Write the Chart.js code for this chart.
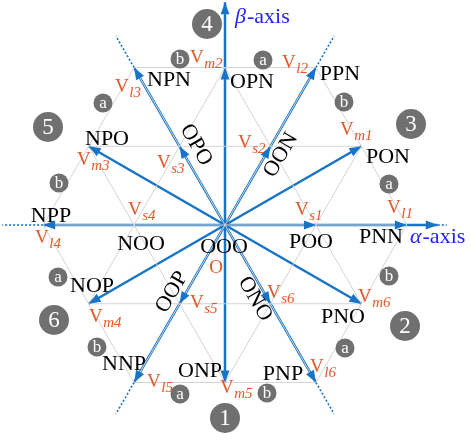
<!DOCTYPE html>
<html>
<head>
<meta charset="utf-8">
<script src="https://cdn.jsdelivr.net/npm/chart.js@4"></script>
<style>
  html, body { margin: 0; padding: 0; background: #fff; }
  canvas { display: block; }
</style>
</head>
<body>
<canvas id="svd" width="471" height="441"></canvas>
<script>
// Three-level inverter space vector diagram in the alpha-beta plane

const largeAngles = [0, 60, 120, 180, 240, 300];
const mediumAngles = [30, 90, 150, 210, 270, 330];
const largeNames = ['PNN', 'PPN', 'NPN', 'NPP', 'NNP', 'PNP'];
const mediumNames = ['PON', 'OPN', 'NPO', 'NOP', 'ONP', 'PNO'];
const smallNames = ['POO', 'OON', 'OPO', 'NOO', 'OOP', 'ONO'];
const zeroName = 'OOO';
const largeSubs = ['l1', 'l2', 'l3', 'l4', 'l5', 'l6'];
const mediumSubs = ['m1', 'm2', 'm3', 'm4', 'm5', 'm6'];
const smallSubs = ['s1', 's2', 's3', 's4', 's5', 's6'];
const sectorNumbers = ['1', '2', '3', '4', '5', '6'];
const regionLetters = ['b', 'a', 'a', 'b', 'b', 'a', 'a', 'b', 'a', 'b', 'b', 'a'];

// vector lengths, in units of the small vector
const smallLen = 1;
const mediumLen = 1.732;
const largeLen = 2;
const gridRows = [-2, -1, 0, 1, 2];
const gridFamilies = [0, 60, 120];
const dottedEnds = [2.4, 2.4, 2.4, 2.45, 2.4, 2.4];   // dotted continuation of each large vector
const alphaAxisEnd = 2.34;
const betaAxisEnd = 2.45;

// ---- label placement (pixel offsets from the origin) ----
const nameOffsets = {
  PNN: [156, 18], PPN: [115, -145], NPN: [-56, -139], NPP: [-174, -3], NNP: [-101, 145], PNP: [58, 155],
  PON: [163, -62], OPN: [27, -137], NPO: [-118, -80], NOP: [-133, 67], ONP: [-25, 152], PNO: [118, 98],
  POO: [86, 23], NOO: [-84, 25], OOO: [-1, 28]
};
const rotatedNames = { OON: [56, -70, -60], OPO: [-29, -80, 60], OOP: [-53, 67, -60], ONO: [30, 74, 60] };
const vLabelOffsets = {
  l1: [162, -12], l2: [57, -157], l3: [-110, -133], l4: [-190, 18], l5: [-78, 162], l6: [85, 147],
  m1: [115, -90], m2: [-35, -162], m3: [-148, -60], m4: [-136, 97], m5: [-5, 168], m6: [133, 77],
  s1: [70, -10], s2: [13, -77], s3: [-68, -57], s4: [-97, -10], s5: [-35, 83], s6: [42, 73]
};
const sectorOffsets = [[0, 193], [180, 101], [186, -101], [-18, -201], [-177, -98], [-171, 95]];
const letterOffsets = [
  [-45, -166], [38, -165], [-122, -122], [-166, -42], [119, -123], [164, -41],
  [-167, 52], [-128, 122], [-45, 169], [42, 168], [164, 51], [120, 123]
];

const BLUE = '#1874c6';
const ORANGE = '#e2592a';
const GRID = '#d4d4d4';
const BADGE = '#707070';
const AXIS_TEXT = '#2222ff';
const SERIF = '"Liberation Serif", "Times New Roman", serif';

const D2R = Math.PI / 180;
const polar = (ang, len) => ({ x: len * Math.cos(ang * D2R), y: len * Math.sin(ang * D2R) });
const rotate = (p, ang) => ({
  x: p.x * Math.cos(ang * D2R) - p.y * Math.sin(ang * D2R),
  y: p.x * Math.sin(ang * D2R) + p.y * Math.cos(ang * D2R)
});

function line(data, color, width, dash) {
  return {
    data: data, showLine: true, borderColor: color, borderWidth: width,
    borderDash: dash || [], pointRadius: 0, fill: false, tension: 0
  };
}

const datasets = [];

// triangular grid inside the hexagon
const rowStep = mediumLen / 2;
gridFamilies.forEach(fam => {
  gridRows.forEach(k => {
    const half = largeLen - Math.abs(k) / 2;
    const a = rotate({ x: -half, y: k * rowStep }, fam);
    const b = rotate({ x: half, y: k * rowStep }, fam);
    datasets.push(line([a, b], GRID, 1));
  });
});

// large and medium vectors
largeAngles.forEach(ang => datasets.push(line([{ x: 0, y: 0 }, polar(ang, largeLen)], BLUE, 2.5)));
mediumAngles.forEach(ang => datasets.push(line([{ x: 0, y: 0 }, polar(ang, mediumLen)], BLUE, 2.5)));

// alpha and beta axes
datasets.push(line([polar(0, largeLen), polar(0, alphaAxisEnd)], BLUE, 2.5));
datasets.push(line([polar(90, mediumLen), polar(90, betaAxisEnd)], BLUE, 2.5));
datasets.push(line([polar(0, alphaAxisEnd), polar(0, 2.44)], BLUE, 1.6, [2, 2]));

// dotted continuation of the large vectors
largeAngles.forEach((ang, i) => {
  if (ang === 0) return;
  datasets.push(line([polar(ang, largeLen), polar(ang, dottedEnds[i])], BLUE, 1.6, [2, 2]));
});

// arrowheads: [angle, length]
const heads = [];
largeAngles.forEach(ang => heads.push([ang, largeLen]));
mediumAngles.forEach(ang => heads.push([ang, mediumLen]));
largeAngles.forEach(ang => { if (ang !== 180) heads.push([ang, smallLen]); });
heads.push([0, alphaAxisEnd], [90, betaAxisEnd]);

function drawHead(ctx, ox, oy, tx, ty) {
  const ang = Math.atan2(ty - oy, tx - ox);
  const len = 12, hw = 4.5;
  ctx.save();
  ctx.translate(tx, ty);
  ctx.rotate(ang);
  ctx.beginPath();
  ctx.moveTo(0, 0);
  ctx.lineTo(-len, -hw);
  ctx.lineTo(-len, hw);
  ctx.closePath();
  ctx.fillStyle = BLUE;
  ctx.fill();
  ctx.restore();
}

function drawVLabel(ctx, x, y, sub) {
  ctx.fillStyle = ORANGE;
  ctx.textAlign = 'left';
  ctx.textBaseline = 'alphabetic';
  ctx.font = '19px ' + SERIF;
  ctx.fillText('V', x, y);
  const w = ctx.measureText('V').width;
  ctx.font = 'italic 15px ' + SERIF;
  ctx.fillText(sub, x + w + 0.5, y + 5);
}

function drawBadge(ctx, x, y, r, text, size) {
  ctx.beginPath();
  ctx.arc(x, y, r, 0, Math.PI * 2);
  ctx.fillStyle = BADGE;
  ctx.fill();
  ctx.fillStyle = '#fff';
  ctx.font = size + 'px ' + SERIF;
  ctx.textAlign = 'center';
  ctx.textBaseline = 'middle';
  ctx.fillText(text, x, y + 1);
}

const overlay = {
  id: 'overlay',
  afterDatasetsDraw(chart) {
    const { ctx } = chart;
    const sx = chart.scales.x, sy = chart.scales.y;
    const ox = sx.getPixelForValue(0), oy = sy.getPixelForValue(0);

    heads.forEach(([ang, len]) => {
      const p = polar(ang, len);
      drawHead(ctx, ox, oy, sx.getPixelForValue(p.x), sy.getPixelForValue(p.y));
    });

    ctx.save();
    // switching state names
    ctx.fillStyle = '#000';
    ctx.font = '22px ' + SERIF;
    ctx.textAlign = 'center';
    ctx.textBaseline = 'alphabetic';
    [...largeNames, ...mediumNames, ...smallNames, zeroName].forEach(name => {
      const o = nameOffsets[name];
      if (o) ctx.fillText(name, ox + o[0], oy + o[1]);
    });
    Object.entries(rotatedNames).forEach(([name, o]) => {
      ctx.save();
      ctx.translate(ox + o[0], oy + o[1]);
      ctx.rotate(o[2] * D2R);
      ctx.textBaseline = 'middle';
      ctx.fillText(name, 0, 0);
      ctx.restore();
    });

    // vector labels
    [...largeSubs, ...mediumSubs, ...smallSubs].forEach(sub => {
      const o = vLabelOffsets[sub];
      drawVLabel(ctx, ox + o[0], oy + o[1], sub);
    });

    // origin mark
    ctx.fillStyle = ORANGE;
    ctx.font = '19px ' + SERIF;
    ctx.textAlign = 'center';
    ctx.fillText('O', ox - 9, oy + 48);

    // sector numbers and region letters
    sectorNumbers.forEach((n, i) => drawBadge(ctx, ox + sectorOffsets[i][0], oy + sectorOffsets[i][1], 15, n, 23));
    regionLetters.forEach((c, i) => drawBadge(ctx, ox + letterOffsets[i][0], oy + letterOffsets[i][1], 9.5, c, 17));

    // axis names
    ctx.fillStyle = AXIS_TEXT;
    ctx.textAlign = 'left';
    ctx.textBaseline = 'alphabetic';
    [['\u03B2', 10, -202], ['\u03B1', 185, 18]].forEach(([g, dx, dy]) => {
      ctx.font = 'italic 22px ' + SERIF;
      ctx.fillText(g, ox + dx, oy + dy);
      const w = ctx.measureText(g).width;
      ctx.font = '22px ' + SERIF;
      ctx.fillText('-axis', ox + dx + w + 1, oy + dy);
    });
    ctx.restore();
  }
};

// 90.93 px per small-vector unit, origin at (225, 225)
const unit = 90.93;
new Chart(document.getElementById('svd'), {
  type: 'scatter',
  data: { datasets: datasets },
  options: {
    responsive: false,
    animation: false,
    layout: { padding: 0 },
    plugins: { legend: { display: false }, tooltip: { enabled: false } },
    scales: {
      x: { type: 'linear', display: false, min: -225 / unit, max: (471 - 225) / unit },
      y: { type: 'linear', display: false, min: -(441 - 225) / unit, max: 225 / unit }
    }
  },
  plugins: [overlay]
});
</script>
</body>
</html>
